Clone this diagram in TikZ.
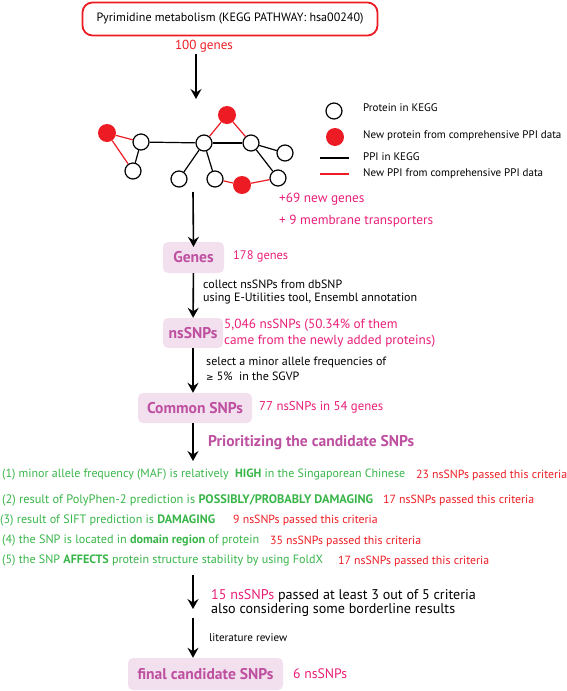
\documentclass[tikz,border=0pt]{standalone}
\usepackage{fontspec}
\setmainfont{PT Sans}
\newfontfamily\symfont{DejaVu Sans}
\usetikzlibrary{arrows.meta}
\definecolor{cred}{RGB}{237,28,36}
\definecolor{cpink}{RGB}{233,30,120}
\definecolor{cgreen}{RGB}{57,181,74}
\definecolor{cpurple}{RGB}{190,80,160}
\definecolor{cbox}{RGB}{243,224,239}
\newlength\tmpw
\newcommand\mkfit[4]{%
  \settowidth\tmpw{\fontsize{10}{12}\selectfont#2#4}%
  \pgfmathsetmacro\tmpfs{10*#3/\tmpw}%
  \expandafter\xdef\csname fs#1\endcsname{\tmpfs}}
\newcommand\usefs[1]{\fontsize{\csname fs#1\endcsname}{\csname fs#1\endcsname}\selectfont}
\begin{document}
\mkfit{ttl}{}{267}{Pyrimidine metabolism (KEGG PATHWAY: hsa00240)}%
\mkfit{hund}{}{58}{100 genes}%
\mkfit{leg}{}{180}{New PPI from comprehensive PPI data}%
\mkfit{plus}{}{154}{+ 9 membrane transporters}%
\mkfit{big}{}{55}{178 genes}%
\mkfit{coll}{}{214}{using E-Utilities tool, Ensembl annotation}%
\mkfit{came}{}{211}{came from the newly added proteins)}%
\mkfit{sel}{}{180}{select a minor allele frequencies of}%
\mkfit{sev}{}{124}{77 nsSNPs in 54 genes}%
\mkfit{prio}{\bfseries}{206}{Prioritizing the candidate SNPs}%
\mkfit{box}{\bfseries}{96}{Common SNPs}%
\mkfit{ka}{}{403}{(1) minor allele frequency (MAF) is relatively\ \ \textbf{HIGH} in the Singaporean Chinese}%
\mkfit{kb}{}{371}{(2) result of PolyPhen-2 prediction is \textbf{POSSIBLY/PROBABLY DAMAGING}}%
\mkfit{kc}{}{215}{(3) result of SIFT prediction is \textbf{DAMAGING}}%
\mkfit{kd}{}{257}{(4) the SNP is located in \textbf{domain region} of protein}%
\mkfit{ke}{}{321}{(5) the SNP \textbf{AFFECTS} protein structure stability by using FoldX}%
\mkfit{red}{}{151}{23 nsSNPs passed this criteria}%
\mkfit{fif}{}{244}{also considering some borderline results}%
\mkfit{lit}{}{78}{literature review}%
\mkfit{six}{}{54}{6 nsSNPs}%
\begin{tikzpicture}[x=1pt,y=-1pt,
  txt/.style={anchor=west,inner sep=0pt},
  flow/.style={line width=1.6pt,-{Stealth[length=10pt,width=11pt,inset=3.5pt]}},
  pbox/.style={fill=cbox,rounded corners=5pt,inner sep=0pt,text=cpurple,font=\usefs{box}\bfseries},
  kegg/.style={circle,draw=black,fill=white,line width=1.2pt,minimum size=16pt,inner sep=0pt},
  newp/.style={circle,fill=cred,minimum size=18pt,inner sep=0pt},
  ek/.style={line width=1.2pt,draw=black},
  er/.style={line width=1.2pt,draw=cred},
  crit/.style={txt,text=cgreen},
  cnt/.style={txt,text=cred,font=\usefs{red}}]
\useasboundingbox (0,0) rectangle (567,691);

% top box
\node[draw=cred,line width=1.8pt,rounded corners=10pt,minimum width=295pt,minimum height=33pt,inner sep=0pt,font=\usefs{ttl}] (top) at (230,19) {Pyrimidine metabolism (KEGG PATHWAY: hsa00240)};
\node[text=cred,inner sep=0pt,font=\usefs{hund}] (g100) at (204,46) {100 genes};
\coordinate (a1s) at (196,54);
\coordinate (a1e) at (196,99);
\draw[flow] (a1s) -- (a1e);

% network
\node[newp] (A) at (107,133) {};
\node[kegg] (B) at (141,142) {};
\node[kegg] (C) at (133,171) {};
\node[kegg] (D) at (204,143) {};
\node[newp] (E) at (227,115) {};
\node[kegg] (F) at (251,143) {};
\node[kegg] (G) at (285,153) {};
\node[kegg] (H) at (179,179) {};
\node[kegg] (I) at (215,179) {};
\node[newp] (J) at (242,185) {};
\node[kegg] (K) at (278,178) {};
\draw[er] (A) -- (B);
\draw[er] (A) -- (C);
\draw[ek] (B) -- (C);
\draw[ek] (B) -- (D);
\draw[er] (D) -- (E);
\draw[er] (E) -- (F);
\draw[ek] (D) -- (F);
\draw[ek] (D) -- (H);
\draw[ek] (D) -- (I);
\draw[ek] (F) -- (G);
\draw[ek] (F) -- (K);
\draw[er] (I) -- (J);
\draw[er] (J) -- (K);

% legend
\node[kegg] (L1) at (334,111) {};
\node[newp] (L2) at (335,137) {};
\coordinate (L3a) at (320,158); \coordinate (L3b) at (349,158);
\coordinate (L4a) at (320,174); \coordinate (L4b) at (349,174);
\draw[ek] (L3a) -- (L3b);
\draw[er] (L4a) -- (L4b);
\node[txt,font=\usefs{leg}] (t1) at (363,108) {Protein in KEGG};
\node[txt,font=\usefs{leg}] (t2) at (363,136) {New protein from comprehensive PPI data};
\node[txt,font=\usefs{leg}] (t3) at (363,157) {PPI in KEGG};
\node[txt,font=\usefs{leg}] (t4) at (363,174) {New PPI from comprehensive PPI data};
\node[txt,text=cpink,font=\usefs{plus}] (n69) at (279,199) {+69 new genes};
\node[txt,text=cpink,font=\usefs{plus}] (n9) at (279,221) {+ 9 membrane transporters};

% flow boxes
\coordinate (a2s) at (193,192);
\node[pbox,minimum width=61pt,minimum height=31pt] (genes) at (193.5,257.5) {Genes};
\draw[flow] (a2s) -- ([yshift=-5pt]genes.north);
\node[txt,text=cpink,font=\usefs{big}] (g178) at (233,256) {178 genes};

\node[pbox,minimum width=60pt,minimum height=30pt] (ns) at (193,333) {nsSNPs};
\draw[flow] (genes) -- (ns);
\node[txt,font=\usefs{coll}] (c1a) at (203,284) {collect nsSNPs from dbSNP};
\node[txt,font=\usefs{coll}] (c1b) at (203,299) {using E-Utilities tool, Ensembl annotation};
\node[txt,text=cpink,font=\usefs{came}] (c2a) at (224,325) {5,046 nsSNPs (50.34\% of them};
\node[txt,text=cpink,font=\usefs{came}] (c2b) at (224,341) {came from the newly added proteins)};

\node[pbox,minimum width=114pt,minimum height=30pt] (com) at (195,408) {Common SNPs};
\draw[flow] (ns) -- (com.north -| ns);
\node[txt,font=\usefs{sel}] (c3a) at (206,362) {select a minor allele frequencies of};
\node[txt,font=\usefs{sel}] (c3b) at (206,376) {{\symfont\fontsize{9}{9}\selectfont≥} 5\%\ \ in the SGVP};
\node[txt,text=cpink,font=\usefs{sev}] (c4) at (259,407) {77 nsSNPs in 54 genes};

\coordinate (a5e) at (193,461);
\draw[flow] (com.south -| ns) -- (a5e);
\node[txt,text=cpurple,font=\usefs{prio}\bfseries] (prio) at (208,443) {Prioritizing the candidate SNPs};

% criteria
\node[crit,font=\usefs{ka}] (k1) at (2,475) {(1) minor allele frequency (MAF) is relatively\ \ \textbf{HIGH} in the Singaporean Chinese};
\node[cnt] (r1) at (416,475) {23 nsSNPs passed this criteria};
\node[crit,font=\usefs{kb}] (k2) at (2,500) {(2) result of PolyPhen-2 prediction is \textbf{POSSIBLY/PROBABLY DAMAGING}};
\node[cnt] (r2) at (383,500) {17 nsSNPs passed this criteria};
\node[crit,font=\usefs{kc}] (k3) at (0,520) {(3) result of SIFT prediction is \textbf{DAMAGING}};
\node[cnt] (r3) at (233,520) {9 nsSNPs passed this criteria};
\node[crit,font=\usefs{kd}] (k4) at (2,541) {(4) the SNP is located in \textbf{domain region} of protein};
\node[cnt] (r4) at (270,541) {35 nsSNPs passed this criteria};
\node[crit,font=\usefs{ke}] (k5) at (2,561) {(5) the SNP \textbf{AFFECTS} protein structure stability by using FoldX};
\node[cnt] (r5) at (338,561) {17 nsSNPs passed this criteria};

\coordinate (a6s) at (193,575);
\coordinate (a6e) at (193,609);
\draw[flow] (a6s) -- (a6e);
\node[txt,font=\usefs{fif}] (p15a) at (211,596) {{\color{cpink}15 nsSNPs} passed at least 3 out of 5 criteria};
\node[txt,font=\usefs{fif}] (p15b) at (211,610) {also considering some borderline results};

\node[pbox,minimum width=155pt,minimum height=32pt] (fin) at (205.5,674) {final candidate SNPs};
\coordinate (a7s) at (193,618);
\draw[flow] (a7s) -- (fin.north -| a7s);
\node[txt,font=\usefs{lit}] (lit) at (209,638) {literature review};
\node[txt,text=cpink,font=\usefs{six}] (n6) at (293,674) {6 nsSNPs};
\end{tikzpicture}
\end{document}
